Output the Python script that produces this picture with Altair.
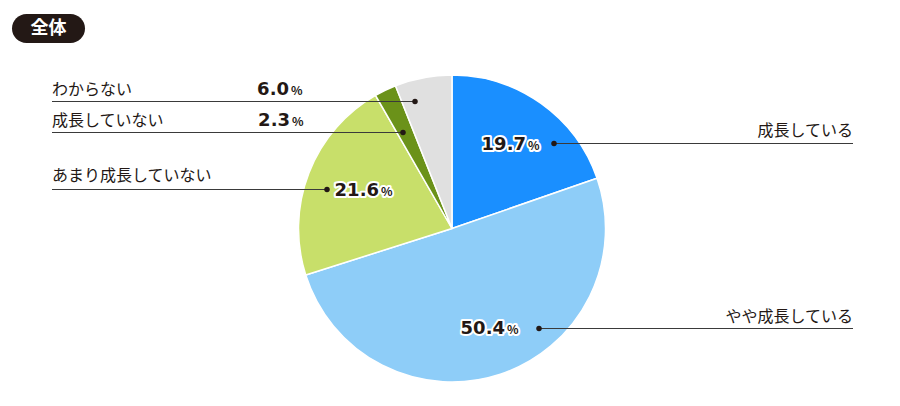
import altair as alt
import pandas as pd

# ---- data ----
categories = ["成長している", "やや成長している", "あまり成長していない", "成長していない", "わからない"]
values = [19.7, 50.4, 21.6, 2.3, 6.0]
pct_labels = ["19.7", "50.4", "21.6", "2.3", "6.0"]
colors = ["#1a8fff", "#8ecdf8", "#c8df6a", "#6b9219", "#e0e0e0"]
title_text = "全体"

# ---- annotation layout (image pixel coordinates) ----
dot_x = [554, 539, 327, 403, 415]
dot_y = [143, 328, 189, 132, 101]
line_x1 = [554, 539, 52, 52, 52]
line_x2 = [853, 853, 327, 403, 415]
label_x = [853, 853, 52, 52, 52]
label_y = [130, 316, 175, 120, 89]
label_align = ["right", "right", "left", "left", "left"]
num_x = [526, 505, 379, 290, 289]
num_y = [149, 333, 195, 125, 94]
inside = [True, True, True, False, False]

df = pd.DataFrame({
    "category": categories, "value": values, "idx": list(range(len(values))),
    "pct": pct_labels, "dot_x": dot_x, "dot_y": dot_y, "x1": line_x1, "x2": line_x2,
    "lx": label_x, "ly": label_y, "align": label_align,
    "nx": num_x, "ny": num_y, "pctx": [v + 2 for v in num_x], "inside": inside,
})

XS = alt.Scale(domain=[8, 892], range=[0, 884])
YS = alt.Scale(domain=[8, 398], range=[0.5, 390.5])
DARK = "#231815"

base = alt.Chart(df)

pie = base.mark_arc(outerRadius=153.5, stroke="white", strokeWidth=1.5).encode(
    theta=alt.Theta("value:Q", stack=True),
    color=alt.Color("category:N", scale=alt.Scale(domain=categories, range=colors), legend=None),
    order=alt.Order("idx:Q"),
    x=alt.value(444),
    y=alt.value(220.5),
)

lines = base.mark_rule(color="#3a3a3a", strokeWidth=1).encode(
    x=alt.X("x1:Q", scale=XS, axis=None),
    x2="x2:Q",
    y=alt.Y("dot_y:Q", scale=YS, axis=None),
)

dots = base.mark_circle(size=30, color=DARK, opacity=1).encode(
    x=alt.X("dot_x:Q", scale=XS, axis=None),
    y=alt.Y("dot_y:Q", scale=YS, axis=None),
)

labels_left = base.transform_filter("datum.align == 'left'").mark_text(
    align="left", baseline="middle", font="Noto Sans CJK JP", fontSize=16, color=DARK
).encode(
    x=alt.X("lx:Q", scale=XS, axis=None),
    y=alt.Y("ly:Q", scale=YS, axis=None),
    text="category:N",
)
labels_right = base.transform_filter("datum.align == 'right'").mark_text(
    align="right", baseline="middle", font="Noto Sans CJK JP", fontSize=16, color=DARK
).encode(
    x=alt.X("lx:Q", scale=XS, axis=None),
    y=alt.Y("ly:Q", scale=YS, axis=None),
    text="category:N",
)

num_halo = base.transform_filter("datum.inside").mark_text(
    align="right", baseline="alphabetic", font="DejaVu Sans", fontWeight="bold", fontSize=18,
    color="white", stroke="white", strokeWidth=4, strokeJoin="round"
).encode(
    x=alt.X("nx:Q", scale=XS, axis=None), y=alt.Y("ny:Q", scale=YS, axis=None), text="pct:N"
)
pct_halo = base.transform_filter("datum.inside").mark_text(
    align="left", baseline="alphabetic", font="Noto Sans CJK JP", fontWeight="bold", fontSize=12,
    color="white", stroke="white", strokeWidth=4, strokeJoin="round"
).encode(
    x=alt.X("pctx:Q", scale=XS, axis=None), y=alt.Y("ny:Q", scale=YS, axis=None), text=alt.value("%")
)
nums = base.mark_text(
    align="right", baseline="alphabetic", font="DejaVu Sans", fontWeight="bold", fontSize=18, color=DARK
).encode(
    x=alt.X("nx:Q", scale=XS, axis=None), y=alt.Y("ny:Q", scale=YS, axis=None), text="pct:N"
)
pcts = base.mark_text(
    align="left", baseline="alphabetic", font="Noto Sans CJK JP", fontWeight="bold", fontSize=12, color=DARK
).encode(
    x=alt.X("pctx:Q", scale=XS, axis=None), y=alt.Y("ny:Q", scale=YS, axis=None), text=alt.value("%")
)

badge_df = pd.DataFrame({"t": [title_text]})
badge = alt.Chart(badge_df).mark_rect(color=DARK, cornerRadius=14.5).encode(
    x=alt.value(4), x2=alt.value(77), y=alt.value(6), y2=alt.value(35)
)
badge_text = alt.Chart(badge_df).mark_text(
    font="Noto Sans CJK JP", fontWeight="bold", fontSize=18, color="white", baseline="middle", align="center"
).encode(x=alt.value(40.5), y=alt.value(20.5), text="t:N")

chart = alt.layer(
    pie, lines, dots, labels_left, labels_right, num_halo, pct_halo, nums, pcts, badge, badge_text
).resolve_scale(x="shared", y="shared").properties(
    width=884, height=390, padding=0, background="white",
    autosize=alt.AutoSizeParams(type="none")
).configure_view(stroke="transparent", strokeWidth=0)

chart.save("out.html", embed_options={"renderer": "svg", "actions": False})
